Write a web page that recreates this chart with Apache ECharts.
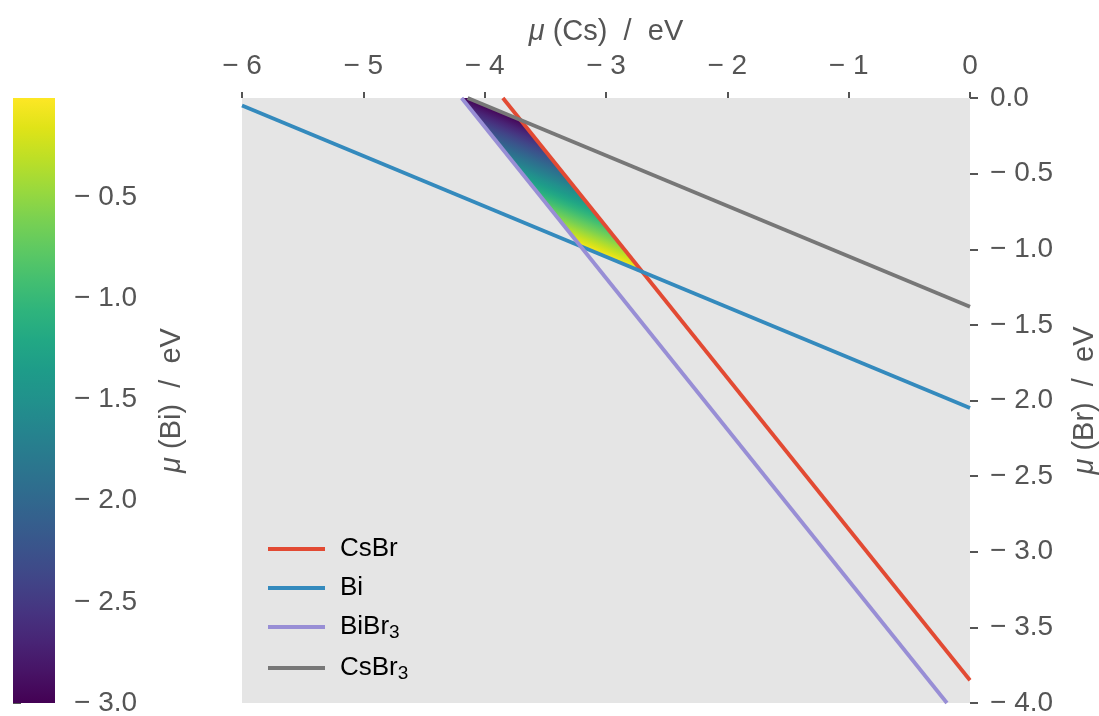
<!DOCTYPE html>
<html><head><meta charset="utf-8">
<script src="https://cdn.jsdelivr.net/npm/echarts@6/dist/echarts.min.js"></script>
<style>html,body{margin:0;padding:0;background:#fff}#c{width:1099px;height:716px}</style>
</head><body><div id="c"></div>
<script>
// ---- data ----
const seriesNames = ['CsBr', 'Bi', 'BiBr3', 'CsBr3'];
const lineCsBr  = [[-3.85, 0], [0, -3.85]];
const lineBi    = [[-6, -0.05], [0, -2.05]];
const lineBiBr3 = [[-4.19, 0], [-0.19, -4]];
const lineCsBr3 = [[-4.14, 0], [0, -1.38]];
const topEdge   = [[-6, 0], [0, 0]];
const muCsRange = [-6, 0];
const muBrRange = [-4, 0];
const muBiRange = [-3, -0.01];
const colorbarTicks = [-3, -2.5, -2, -1.5, -1, -0.5];
const lineColors = ['#E24A33', '#348ABD', '#988ED5', '#777777'];
const viridis = ['#440154','#471365','#482475','#463480','#414487','#3b528b','#355f8d','#2f6c8e','#2a788e','#25848e','#21918c','#1e9c89','#22a884','#2fb47c','#44bf70','#5ec962','#7ad151','#9bd93c','#bddf26','#dfe318','#fde725'];

const FONT = 'Liberation Sans';
const stopsUp = viridis.map((c, i) => ({offset: i / (viridis.length - 1), color: c}));
const stopsDown = viridis.slice().reverse().map((c, i) => ({offset: i / (viridis.length - 1), color: c}));

function intersect(a, b) {
  const [x1, y1] = a[0], [x2, y2] = a[1], [x3, y3] = b[0], [x4, y4] = b[1];
  const d = (x1 - x2) * (y3 - y4) - (y1 - y2) * (x3 - x4);
  const t = ((x1 - x3) * (y3 - y4) - (y1 - y3) * (x3 - x4)) / d;
  return [x1 + t * (x2 - x1), y1 + t * (y2 - y1)];
}
// stability region bounded by the lines
const regionVerts = [
  intersect(lineBiBr3, topEdge),
  intersect(lineCsBr3, topEdge),
  intersect(lineCsBr3, lineCsBr),
  intersect(lineCsBr, lineBi),
  intersect(lineBi, lineBiBr3)
];

function fmtX(v) { return v === 0 ? '0' : '\u2212 ' + Math.abs(v); }
function fmtY(v) { return Math.abs(v) < 1e-9 ? '0.0' : '\u2212 ' + Math.abs(v).toFixed(1); }

const labelStyle = {fontSize: 28, color: '#555555', fontFamily: FONT};
const nameStyle = {fontSize: 29, color: '#555555', fontFamily: FONT,
  rich: {i: {fontSize: 29, color: '#555555', fontFamily: FONT, fontStyle: 'italic'}}};
const tickStyle = {color: '#555555', width: 2};

const chart = echarts.init(document.getElementById('c'));
const lineSeries = [lineCsBr, lineBi, lineBiBr3, lineCsBr3].map((d, i) => ({
  name: seriesNames[i], type: 'line', data: d, xAxisIndex: 0, yAxisIndex: 0,
  symbol: 'none', lineStyle: {color: lineColors[i], width: 3.8}, itemStyle: {color: lineColors[i]},
  z: 3, silent: true, animation: false
}));

chart.setOption({
  animation: false,
  grid: [
    {left: 242, right: 129, top: 98, bottom: 13, show: true, backgroundColor: '#E5E5E5', borderWidth: 0,
     outerBoundsMode: 'none', containLabel: false},
    {left: 13, width: 42, top: 98, bottom: 13, show: false, outerBoundsMode: 'none', containLabel: false}
  ],
  xAxis: [
    {type: 'value', gridIndex: 0, position: 'top', min: muCsRange[0], max: muCsRange[1], interval: 1,
     offset: 4, axisLine: {show: false}, axisTick: {show: true, length: 6, lineStyle: tickStyle},
     splitLine: {show: false}, axisLabel: Object.assign({margin: 14, formatter: fmtX}, labelStyle),
     name: '{i|μ} (Cs)  /  eV', nameLocation: 'middle', nameGap: 48, nameTextStyle: nameStyle},
    {type: 'value', gridIndex: 1, min: 0, max: 1, show: false}
  ],
  yAxis: [
    {type: 'value', gridIndex: 0, position: 'right', min: muBrRange[0], max: muBrRange[1], interval: 0.5,
     offset: 2, axisLine: {show: false}, axisTick: {show: true, length: 8, lineStyle: tickStyle},
     splitLine: {show: false}, axisLabel: Object.assign({margin: 18, formatter: fmtY}, labelStyle),
     name: '{i|μ} (Br)  /  eV', nameLocation: 'middle', nameGap: 98, nameRotate: 90, nameTextStyle: nameStyle},
    {type: 'value', gridIndex: 1, position: 'right', min: muBiRange[0], max: muBiRange[1], interval: 0.5,
     offset: 2, axisLine: {show: false},
     axisTick: {show: true, length: 8, lineStyle: tickStyle, customValues: colorbarTicks},
     splitLine: {show: false},
     axisLabel: Object.assign({margin: 17, formatter: fmtY, customValues: colorbarTicks}, labelStyle),
     name: '{i|μ} (Bi)  /  eV', nameLocation: 'middle', nameGap: 100, nameRotate: 90, nameTextStyle: nameStyle}
  ],
  legend: {
    data: seriesNames, orient: 'vertical', left: 263, top: 531, itemWidth: 57, itemHeight: 3.8, itemGap: 13,
    icon: 'rect', selectedMode: false,
    formatter: n => { const m = n.match(/^(.*?)(\d)$/); return m ? '{a|' + m[1] + '}{s|' + m[2] + '}' : '{a|' + n + '}'; },
    textStyle: {color: '#000', fontFamily: FONT, fontSize: 26,
      rich: {a: {color: '#000', fontFamily: FONT, fontSize: 26, lineHeight: 30, padding: [0, 0, 0, 10]},
             s: {color: '#000', fontFamily: FONT, fontSize: 19, lineHeight: 16, verticalAlign: 'bottom'}}}
  },
  series: [
    {type: 'custom', name: 'region', xAxisIndex: 0, yAxisIndex: 0, data: [regionVerts[0]], z: 2, silent: true,
     renderItem: (params, api) => {
       const pts = regionVerts.map(v => api.coord(v));
       const g1 = api.coord(lineCsBr3[0]);
       const b1 = api.coord(lineBi[0]), b2 = api.coord(lineBi[1]);
       let dx = b2[0] - b1[0], dy = b2[1] - b1[1];
       const L = Math.hypot(dx, dy); dx /= L; dy /= L;
       const t = (g1[0] - b1[0]) * dx + (g1[1] - b1[1]) * dy;
       const f = [b1[0] + t * dx, b1[1] + t * dy];
       return {type: 'polygon', shape: {points: pts},
         style: {fill: new echarts.graphic.LinearGradient(g1[0], g1[1], f[0], f[1], stopsUp, true)}};
     }},
    {type: 'custom', name: 'colorbar', xAxisIndex: 1, yAxisIndex: 1, data: [[0, muBiRange[0]]], silent: true,
     renderItem: (params, api) => {
       const p0 = api.coord([0, muBiRange[1]]);
       const p1 = api.coord([1, muBiRange[0]]);
       return {type: 'rect', shape: {x: p0[0], y: p0[1], width: p1[0] - p0[0], height: p1[1] - p0[1]},
         style: {fill: new echarts.graphic.LinearGradient(0, 0, 0, 1, stopsDown)}};
     }}
  ].concat(lineSeries)
});
</script>
</body></html>
